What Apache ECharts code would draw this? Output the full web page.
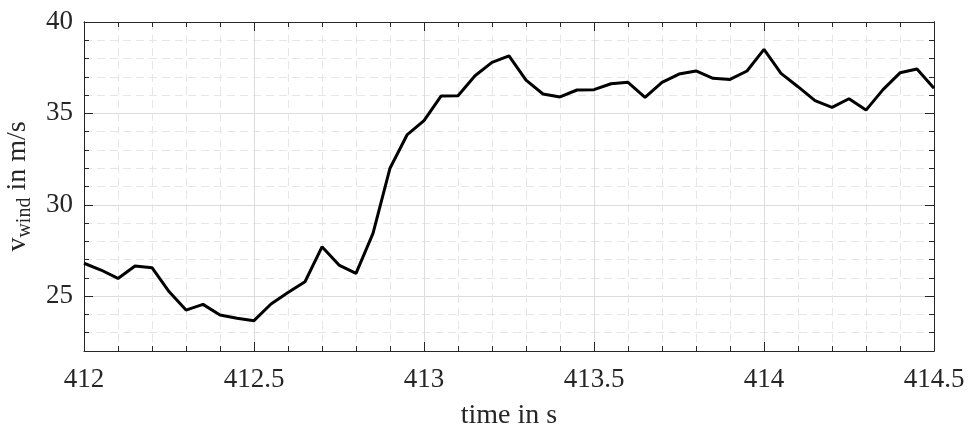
<!DOCTYPE html>
<html>
<head>
<meta charset="utf-8">
<script src="https://cdn.jsdelivr.net/npm/echarts@6/dist/echarts.min.js"></script>
<style>
html,body{margin:0;padding:0;background:#fff;}
#chart{width:968px;height:427px;}
</style>
</head>
<body>
<div id="chart"></div>
<script>
const timeS = [412.00, 412.05, 412.10, 412.15, 412.20, 412.25, 412.30, 412.35, 412.40, 412.45,
  412.50, 412.55, 412.60, 412.65, 412.70, 412.75, 412.80, 412.85, 412.90, 412.95,
  413.00, 413.05, 413.10, 413.15, 413.20, 413.25, 413.30, 413.35, 413.40, 413.45,
  413.50, 413.55, 413.60, 413.65, 413.70, 413.75, 413.80, 413.85, 413.90, 413.95,
  414.00, 414.05, 414.10, 414.15, 414.20, 414.25, 414.30, 414.35, 414.40, 414.45, 414.50];
const windSpeed = [26.80, 26.43, 25.97, 26.65, 26.56, 25.25, 24.24, 24.55, 23.97, 23.79,
  23.66, 24.57, 25.20, 25.79, 27.70, 26.70, 26.25, 28.44, 32.00, 33.82,
  34.60, 35.95, 35.97, 37.06, 37.79, 38.15, 36.82, 36.06, 35.90, 36.28,
  36.30, 36.62, 36.70, 35.88, 36.70, 37.15, 37.32, 36.92, 36.86, 37.32,
  38.50, 37.19, 36.46, 35.70, 35.33, 35.80, 35.18, 36.30, 37.22, 37.43, 36.37];
const xTickLabels = [412, 412.5, 413, 413.5, 414, 414.5];
const yTickLabels = [25, 30, 35, 40];
const xMin = 412, xMax = 414.5, yMin = 22, yMax = 40;

const FONT = '"Liberation Serif", "DejaVu Serif", serif';
const AX = '#262626';
const MAJOR = '#dcdcdc';
const MINOR = '#e6e6e6';

const chart = echarts.init(document.getElementById('chart'), null, {renderer: 'canvas'});
const xBase = {
  type: 'value', min: xMin, max: xMax, interval: 0.5,
  axisLine: {show: true, onZero: false, lineStyle: {color: AX, width: 1}},
  axisTick: {show: true, inside: true, length: 9, lineStyle: {color: AX, width: 1}},
  minorTick: {show: true, splitNumber: 5, length: 5, lineStyle: {color: AX, width: 1}}
};
const option = {
  animation: false,
  backgroundColor: '#ffffff',
  grid: {left: 84, right: 34, top: 22, bottom: 76, containLabel: false, outerBoundsMode: 'none'},
  xAxis: [
    Object.assign({}, xBase, {
      position: 'bottom',
      axisLabel: {show: true, fontFamily: FONT, fontSize: 27, color: AX, margin: 15,
        customValues: xTickLabels},
      splitLine: {show: true, lineStyle: {color: MAJOR, width: 1}},
      minorSplitLine: {show: true, lineStyle: {color: MINOR, width: 1, type: [8, 5]}},
      name: 'time in s', nameLocation: 'middle', nameGap: 51,
      nameTextStyle: {fontFamily: FONT, fontSize: 28, color: AX}
    }),
    Object.assign({}, xBase, {
      position: 'top',
      axisLabel: {show: false},
      splitLine: {show: false}
    })
  ],
  yAxis: [
    {
      type: 'value', min: yMin, max: yMax, interval: 1, position: 'left',
      axisLine: {show: true, onZero: false, lineStyle: {color: AX, width: 1}},
      axisTick: {show: true, inside: true, length: 5, lineStyle: {color: AX}},
      axisLabel: {show: false},
      splitLine: {show: true, lineStyle: {color: MINOR, width: 1, type: [8, 5]}}
    },
    {
      type: 'value', min: yMin, max: yMax, position: 'left',
      axisLine: {show: true, onZero: false, lineStyle: {color: AX, width: 1}},
      axisTick: {show: true, inside: true, length: 9, lineStyle: {color: AX}, customValues: yTickLabels},
      axisLabel: {show: true, fontFamily: FONT, fontSize: 27, color: AX, margin: 11, customValues: yTickLabels},
      splitLine: {show: true, lineStyle: {color: MAJOR, width: 1}},
      name: '{v|v}{s|wind}{t| in m/s}', nameLocation: 'middle', nameGap: 49, nameRotate: 90,
      nameTextStyle: {
        color: AX, fontFamily: FONT,
        rich: {
          v: {fontFamily: FONT, fontSize: 28, lineHeight: 34, color: AX},
          s: {fontFamily: FONT, fontSize: 20, lineHeight: 19, verticalAlign: 'bottom', color: AX},
          t: {fontFamily: FONT, fontSize: 28, lineHeight: 34, color: AX}
        }
      }
    },
    {
      type: 'value', min: yMin, max: yMax, interval: 1, position: 'right',
      axisLine: {show: true, onZero: false, lineStyle: {color: AX, width: 1}},
      axisTick: {show: true, inside: true, length: 5, lineStyle: {color: AX}},
      axisLabel: {show: false},
      splitLine: {show: false}
    },
    {
      type: 'value', min: yMin, max: yMax, position: 'right',
      axisLine: {show: true, onZero: false, lineStyle: {color: AX, width: 1}},
      axisTick: {show: true, inside: true, length: 9, lineStyle: {color: AX}, customValues: yTickLabels},
      axisLabel: {show: false},
      splitLine: {show: false}
    }
  ],
  series: [{
    type: 'line', xAxisIndex: 0, yAxisIndex: 0,
    data: timeS.map((t, i) => [t, windSpeed[i]]),
    showSymbol: false, symbol: 'none',
    lineStyle: {color: '#000000', width: 3},
    z: 10, clip: false
  }]
};
chart.setOption(option);
</script>
</body>
</html>
